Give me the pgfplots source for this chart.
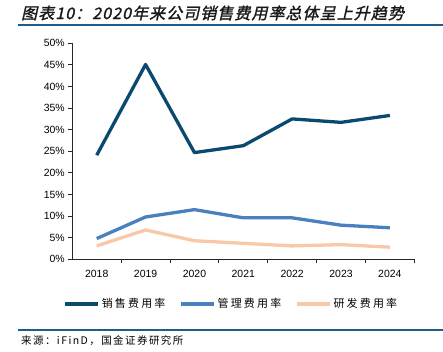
\documentclass[border=0pt]{standalone}
\usepackage{pgfplots}
\pgfplotsset{compat=1.18}
\usepackage{fontspec}
\setmainfont{Liberation Sans}
\newfontfamily\cjk[LetterSpace=20]{Noto Sans CJK SC}
\newfontfamily\cjksrc[LetterSpace=14]{Noto Sans CJK SC}
\newfontfamily\cjktitle[FakeSlant=0.22,FakeBold=1.6,LetterSpace=7]{Noto Sans CJK SC}
\definecolor{c1}{HTML}{0B4A6F}
\definecolor{c2}{HTML}{4A80BF}
\definecolor{c3}{HTML}{F8C8A8}
\definecolor{rulec}{HTML}{1F5C8A}
\begin{document}
\begin{tikzpicture}[x=1bp,y=1bp]
\path[use as bounding box] (0,0) rectangle (443,351);
\node[anchor=west, inner sep=0pt, font=\cjktitle\fontsize{16}{18}\selectfont, text=black!90] at (21,338) {图表10：2020年来公司销售费用率总体呈上升趋势};
\draw[rulec, line width=1.3bp] (18,326) -- (443,326);
\draw[rulec, line width=1.3bp] (18,21) -- (443,21);
\node[anchor=west, inner sep=0pt, font=\cjksrc\fontsize{10.5}{12}\selectfont] at (21,10) {来源：iFinD，国金证券研究所};
\begin{axis}[
  at={(72.3bp,91.7bp)}, anchor=south west,
  scale only axis, width=342bp, height=216bp,
  xmin=-0.5, xmax=6.5, ymin=0, ymax=50,
  axis x line*=bottom, axis y line*=left,
  axis line style={line width=0.9bp, black!85},
  xtick={0,...,6},
  xticklabels={2018,2019,2020,2021,2022,2023,2024},
  minor xtick={0.5,1.5,...,6.5},
  ytick={0,5,...,50},
  yticklabel={\pgfmathprintnumber{\tick}\%},
  tick align=outside,
  major tick length=4bp, minor tick length=4bp,
  x tick style={draw=none},
  minor x tick style={draw=black!85, line width=0.9bp},
  y tick style={black!85, line width=0.9bp},
  tick label style={font=\fontsize{10.5}{12}\selectfont, /pgf/number format/assume math mode=true},
  xticklabel style={yshift=-3bp},
  legend style={at={(0.465,-0.207)}, anchor=center, draw=none, fill=none,
    legend columns=3, font=\cjk\fontsize{11}{13}\selectfont,
    /tikz/every even column/.append style={column sep=12bp}, inner sep=0pt},
  legend cell align=left,
  legend image code/.code={\draw[#1] (0bp,0bp) -- (33bp,0bp);},
  every axis plot/.append style={line width=3.3bp, no markers, line join=round},
]
\addplot[c1] coordinates {(0,24.1) (1,45.1) (2,24.7) (3,26.3) (4,32.5) (5,31.7) (6,33.3)};
\addplot[c2] coordinates {(0,4.8) (1,9.8) (2,11.5) (3,9.6) (4,9.6) (5,7.9) (6,7.3)};
\addplot[c3] coordinates {(0,3.1) (1,6.8) (2,4.3) (3,3.7) (4,3.1) (5,3.4) (6,2.8)};
\legend{销售费用率,管理费用率,研发费用率}
\end{axis}
\end{tikzpicture}
\end{document}
